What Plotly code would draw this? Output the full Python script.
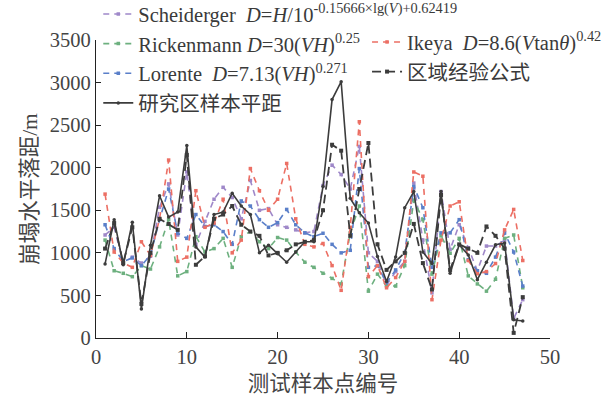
import plotly.graph_objects as go

x = list(range(1, 48))

scheiderger = [1210, 1300, 880, 950, 880, 960, 1535, 1810, 1210, 1950, 1100, 1370, 1630, 1770, 1650, 1400,
               1850, 1500, 1520, 1330, 1300, 1270, 1235, 1250, 1790, 2030, 1920, 1750, 2250, 1000, 900, 620,
               780, 900, 1820, 1150, 530, 1720, 1040, 1330, 1060, 790, 1080, 1080, 1150, 230, 450]
rickenmann = [1150, 790, 760, 720, 850, 810, 1070, 1390, 730, 780, 1190, 1010, 1050, 1170, 830, 1190,
              1250, 1130, 1050, 1180, 1150, 1010, 890, 830, 760, 700, 635, 1235, 1550, 550, 750, 610,
              610, 850, 1620, 1390, 750, 1200, 995, 1170, 730, 635, 550, 690, 1170, 1210, 590]
ikeya = [1690, 1010, 880, 830, 1130, 970, 1400, 2090, 900, 950, 1730, 1300, 1350, 1630, 1000, 1150,
         1990, 1730, 1500, 1630, 2050, 1400, 1100, 1070, 1110, 850, 560, 1300, 2540, 720, 850, 590,
         710, 900, 1950, 1900, 450, 1150, 1550, 1600, 910, 755, 780, 875, 1270, 1510, 910]
lorente = [1330, 1050, 900, 940, 850, 975, 1390, 1750, 1230, 1170, 1450, 1310, 1330, 1250, 1100, 1610,
           1550, 1390, 1300, 1355, 1510, 1330, 1235, 1190, 1230, 1100, 1000, 1030, 1990, 830, 850, 650,
           800, 1000, 1780, 1530, 830, 1235, 1235, 1390, 920, 790, 760, 950, 1235, 1010, 610]
regional = [1050, 1350, 880, 1300, 400, 1000, 1400, 1340, 1270, 2150, 860, 960, 1400, 1450, 1550, 1330,
            1250, 1200, 970, 1000, 1030, 1100, 1130, 1150, 1500, 2270, 2200, 1200, 1750, 2290, 1100, 800,
            900, 1000, 1340, 880, 570, 1680, 800, 1100, 1050, 1000, 1310, 1200, 1050, 60, 480]
study = [870, 1390, 860, 1360, 340, 1090, 1670, 1420, 1480, 2260, 1070, 950, 1450, 1480, 1700, 1550,
         1450, 1000, 1090, 990, 890, 1010, 1130, 1130, 1780, 2800, 3010, 1640, 1470, 1350, 957, 664,
         950, 1530, 1720, 1010, 875, 1720, 760, 1095, 975, 685, 890, 1095, 1115, 215, 200]

names = {
    "sch": "Scheiderger  <i>D</i>=<i>H</i>/10<sup>-0.15666×lg(<i>V</i>)+0.62419</sup>",
    "ric": "Rickenmann <i>D</i>=30(<i>VH</i>)<sup>0.25</sup>",
    "ike": "Ikeya  <i>D</i>=8.6(<i>V</i>tan<i>θ</i>)<sup>0.42</sup>",
    "lor": "Lorente  <i>D</i>=7.13(<i>VH</i>)<sup>0.271</sup>",
    "reg": "区域经验公式",
    "stu": "研究区样本平距",
}

FONT = "Liberation Serif, Times New Roman, Noto Sans CJK SC"
C_PUR = "#9f88c9"
C_GRN = "#6db07f"
C_RED = "#ec6f64"
C_BLU = "#5a7fc9"
C_DRK = "#3c3c3c"
TXT = "#3a3a3a"

fig = go.Figure()

def dashed(y, name, color, legend, rank):
    fig.add_trace(go.Scatter(
        x=x, y=y, name=name, mode="lines+markers",
        line=dict(color=color, width=1.6, dash="6px,5px"),
        marker=dict(symbol="square", size=3.5, color=color),
        legend=legend, legendrank=rank,
    ))

dashed(scheiderger, names["sch"], C_PUR, "legend", 1)
dashed(rickenmann, names["ric"], C_GRN, "legend", 2)
dashed(lorente, names["lor"], C_BLU, "legend", 3)
dashed(ikeya, names["ike"], C_RED, "legend2", 1)

fig.add_trace(go.Scatter(
    x=x, y=regional, name=names["reg"], mode="lines+markers",
    line=dict(color=C_DRK, width=1.8, dash="9px,5px"),
    marker=dict(symbol="square", size=4, color=C_DRK),
    legend="legend2", legendrank=2,
))
fig.add_trace(go.Scatter(
    x=x, y=study, name=names["stu"], mode="lines+markers",
    line=dict(color=C_DRK, width=1.6),
    marker=dict(symbol="circle", size=3.5, color=C_DRK),
    legend="legend", legendrank=4,
))

fig.update_layout(
    width=616, height=399,
    margin=dict(l=95.5, r=66, t=40, b=61, pad=0, autoexpand=False),
    paper_bgcolor="white", plot_bgcolor="white",
    font=dict(family=FONT, size=20, color=TXT),
    showlegend=True,
    legend=dict(
        x=0.005, y=1.154, xanchor="left", yanchor="top",
        bgcolor="rgba(0,0,0,0)", font=dict(family=FONT, size=20.5, color=TXT),
        tracegroupgap=0, itemwidth=30, traceorder="normal",
    ),
    legend2=dict(
        x=0.597, y=1.06, xanchor="left", yanchor="top",
        bgcolor="rgba(0,0,0,0)", font=dict(family=FONT, size=20.5, color=TXT),
        tracegroupgap=0, itemwidth=30, traceorder="normal",
    ),
)

fig.update_xaxes(
    range=[0, 50], tickvals=[0, 10, 20, 30, 40, 50],
    showline=True, linecolor="#222222", linewidth=1.3,
    ticks="inside", ticklen=6, tickcolor="#222222", tickwidth=1.3,
    showgrid=False, zeroline=False,
    tickfont=dict(family=FONT, size=20.5, color="#444444"),
    title=dict(text="测试样本点编号", font=dict(family=FONT, size=21.5, color="#444444"), standoff=9),
)
fig.update_yaxes(
    range=[0, 3500], tickvals=[0, 500, 1000, 1500, 2000, 2500, 3000, 3500],
    showline=True, linecolor="#222222", linewidth=1.3,
    ticks="inside", ticklen=5, tickcolor="#222222", tickwidth=1.3,
    showgrid=False, zeroline=False,
    tickfont=dict(family=FONT, size=20.5, color="#444444"),
    title=dict(text="崩塌水平落距/m", font=dict(family=FONT, size=21.5, color="#444444"), standoff=6),
)

fig.write_html("out.html")
